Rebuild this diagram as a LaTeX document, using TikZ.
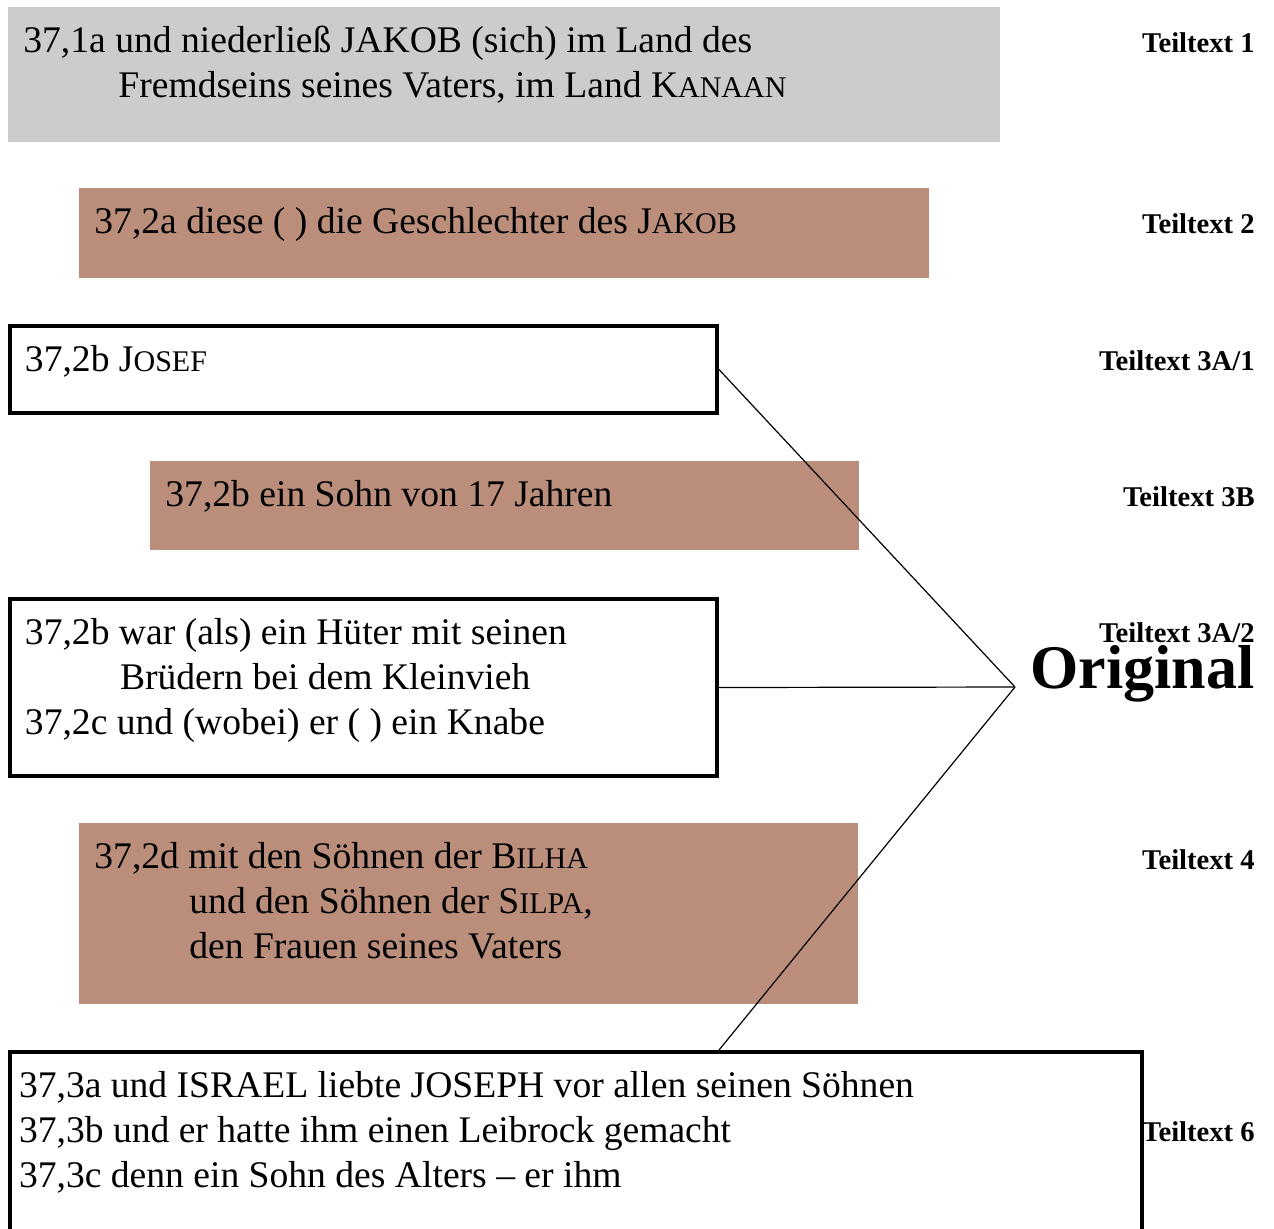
\documentclass[tikz,border=0pt]{standalone}
\usepackage{fontspec}
\setmainfont{Liberation Serif}
\usepackage{tikz}
\usetikzlibrary{positioning, calc}
\usepackage{xcolor}
\definecolor{teilgrau}{HTML}{CCCCCC}
\definecolor{teilbraun}{HTML}{BB8E7C}
\newcommand{\kap}[1]{{\fontsize{15pt}{15pt}\selectfont #1}}
\newcommand{\feld}[3]{\parbox[c][#1][t]{#2}{#3}}
\newcommand{\einzug}{\hspace*{47.5pt}}
\tikzset{
  teilfeld/.style={rectangle, anchor=north west, inner xsep=7.5pt, inner ysep=9.5pt,
                   font=\fontsize{18.8pt}{22.5pt}\selectfont},
  rahmen/.style={teilfeld, draw=black, line width=2pt, fill=white},
  etikett/.style={anchor=base east, inner sep=0pt, font=\bfseries\fontsize{14.3pt}{17pt}\selectfont},
  verbinder/.style={draw=black, line width=0.6pt}
}

\begin{document}
\begin{tikzpicture}[x=0.5pt, y=-0.5pt]
\useasboundingbox (0,0) rectangle (1274,1228);

\node[teilfeld, fill=teilgrau] (t1) at (8,7) {\feld{48.5pt}{481pt}{%
37,1a und niederließ JAKOB (sich) im Land des\\
\einzug Fremdseins seines Vaters, im Land K\kap{ANAAN}}};

\node[teilfeld, fill=teilbraun] (t2) at (79,188) {\feld{26pt}{410pt}{%
37,2a diese ( ) die Geschlechter des J\kap{AKOB}}};

\node[rahmen] (t3a1) at (8,324) {\feld{24.5pt}{338.5pt}{%
37,2b J\kap{OSEF}}};

\node[teilfeld, fill=teilbraun] (t3b) at (150,461) {\feld{25.5pt}{339.5pt}{%
37,2b ein Sohn von 17 Jahren}};

\node[rahmen] (t3a2) at (8,597) {\feld{69.5pt}{338.5pt}{%
37,2b war (als) ein Hüter mit seinen\\
\einzug Brüdern bei dem Kleinvieh\\
37,2c und (wobei) er ( ) ein Knabe}};

\node[teilfeld, fill=teilbraun] (t4) at (79,823) {\feld{71.5pt}{374.5pt}{%
37,2d mit den Söhnen der B\kap{ILHA}\\
\einzug und den Söhnen der S\kap{ILPA},\\
\einzug den Frauen seines Vaters}};

\node[rahmen, inner xsep=4.5pt] (t6) at (8,1050) {\feld{81pt}{557pt}{%
37,3a und ISRAEL liebte JOSEPH vor allen seinen Söhnen\\
37,3b und er hatte ihm einen Leibrock gemacht\\
37,3c denn ein Sohn des Alters -- er ihm}};

% Teiltexte
\node[etikett] (l1) at (1255,52) {Teiltext 1};
\node[etikett] (l2) at (1255,233.5) {Teiltext 2};
\node[etikett] (l3a1) at (1255,370.5) {Teiltext 3A/1};
\node[etikett] (l3b) at (1255,506.5) {Teiltext 3B};
\node[etikett] (l3a2) at (1255,642.5) {Teiltext 3A/2};
\node[etikett] (l4) at (1255,869.5) {Teiltext 4};
\node[etikett] (l6) at (1255,1141.5) {Teiltext 6};

\node[anchor=base east, inner sep=0pt, font=\bfseries\fontsize{31pt}{31pt}\selectfont] (orig) at (1255,688) {Original};

\coordinate (knoten) at (1015,687);
\draw[verbinder] (t3a1.east) -- (knoten);
\draw[verbinder] (t3a2.east) -- (knoten);
\draw[verbinder] (t6.north -| t3a2.east) -- (knoten);
\end{tikzpicture}
\end{document}
